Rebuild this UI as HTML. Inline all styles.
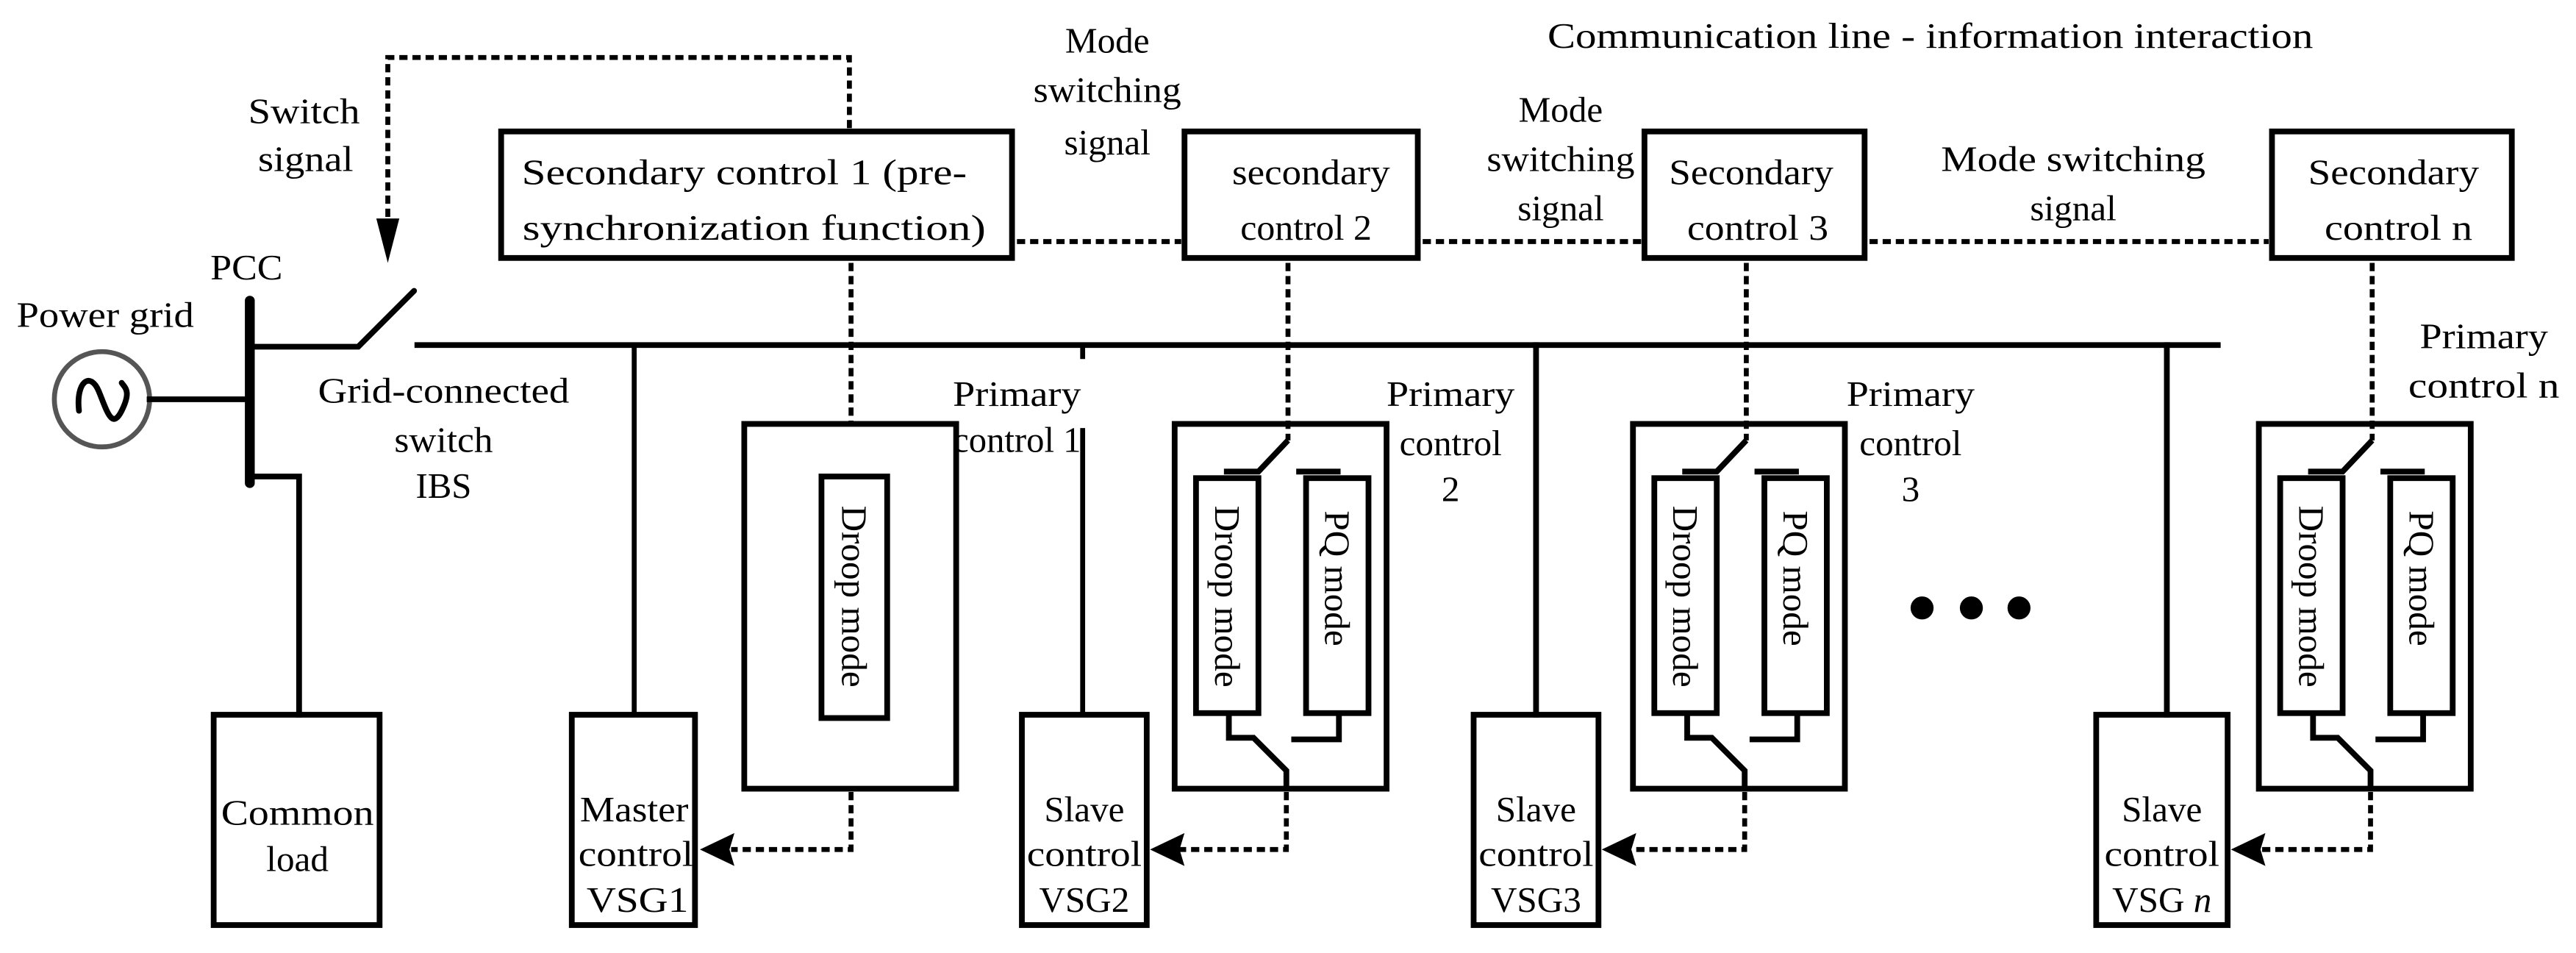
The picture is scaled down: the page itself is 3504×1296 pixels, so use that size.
<!DOCTYPE html>
<html><head><meta charset="utf-8"><style>
html,body{margin:0;padding:0;background:#fff;}
svg{display:block;}
text{font-family:"Liberation Serif","Times New Roman",serif;font-size:22px;fill:#000;}
</style></head><body>
<svg width="3504" height="1296" viewBox="0 0 1568 580" xmlns="http://www.w3.org/2000/svg">
<rect width="1568" height="580" fill="#fff"/>
<g text-anchor="middle">
<text x="185" y="75" textLength="68" lengthAdjust="spacingAndGlyphs">Switch</text>
<text x="186" y="104" textLength="58" lengthAdjust="spacingAndGlyphs">signal</text>
<text x="150" y="170" textLength="44" lengthAdjust="spacingAndGlyphs">PCC</text>
<text x="64" y="199" textLength="108" lengthAdjust="spacingAndGlyphs">Power grid</text>
<text x="270" y="245" textLength="153" lengthAdjust="spacingAndGlyphs">Grid-connected</text>
<text x="270" y="275" textLength="60" lengthAdjust="spacingAndGlyphs">switch</text>
<text x="270" y="303" textLength="34" lengthAdjust="spacingAndGlyphs">IBS</text>
<text x="674" y="32">Mode</text>
<text x="674" y="62" textLength="90" lengthAdjust="spacingAndGlyphs">switching</text>
<text x="674" y="94">signal</text>
<text x="950" y="74">Mode</text>
<text x="950" y="104" textLength="90" lengthAdjust="spacingAndGlyphs">switching</text>
<text x="950" y="134">signal</text>
<text x="1262" y="104" textLength="161" lengthAdjust="spacingAndGlyphs">Mode switching</text>
<text x="1262" y="134">signal</text>
<text x="1175" y="29" textLength="466" lengthAdjust="spacingAndGlyphs">Communication line - information interaction</text>
<text x="453" y="112" textLength="271" lengthAdjust="spacingAndGlyphs">Secondary control 1 (pre-</text>
<text x="459" y="146" textLength="282" lengthAdjust="spacingAndGlyphs">synchronization function)</text>
<text x="798" y="112" textLength="96" lengthAdjust="spacingAndGlyphs">secondary</text>
<text x="795" y="146" textLength="80" lengthAdjust="spacingAndGlyphs">control 2</text>
<text x="1066" y="112" textLength="100" lengthAdjust="spacingAndGlyphs">Secondary</text>
<text x="1070" y="146" textLength="86" lengthAdjust="spacingAndGlyphs">control 3</text>
<text x="1457" y="112" textLength="104" lengthAdjust="spacingAndGlyphs">Secondary</text>
<text x="1460" y="146" textLength="90" lengthAdjust="spacingAndGlyphs">control n</text>
<text x="619" y="247" textLength="78" lengthAdjust="spacingAndGlyphs">Primary</text>
<text x="619" y="275" textLength="78" lengthAdjust="spacingAndGlyphs">control 1</text>
<text x="883" y="247" textLength="78" lengthAdjust="spacingAndGlyphs">Primary</text>
<text x="883" y="277">control</text>
<text x="883" y="305">2</text>
<text x="1163" y="247" textLength="78" lengthAdjust="spacingAndGlyphs">Primary</text>
<text x="1163" y="277">control</text>
<text x="1163" y="305">3</text>
<text x="1512" y="212" textLength="78" lengthAdjust="spacingAndGlyphs">Primary</text>
<text x="1512" y="242" textLength="92" lengthAdjust="spacingAndGlyphs">control n</text>
<text x="181" y="502" textLength="93" lengthAdjust="spacingAndGlyphs">Common</text>
<text x="181" y="530">load</text>
<text x="386" y="500" textLength="66" lengthAdjust="spacingAndGlyphs">Master</text>
<text x="387" y="527" textLength="70" lengthAdjust="spacingAndGlyphs">control</text>
<text x="388" y="555" textLength="62" lengthAdjust="spacingAndGlyphs">VSG1</text>
<text x="660" y="500">Slave</text>
<text x="660" y="527" textLength="70" lengthAdjust="spacingAndGlyphs">control</text>
<text x="660" y="555">VSG2</text>
<text x="935" y="500">Slave</text>
<text x="935" y="527" textLength="70" lengthAdjust="spacingAndGlyphs">control</text>
<text x="935" y="555">VSG3</text>
<text x="1316" y="500">Slave</text>
<text x="1316" y="527" textLength="70" lengthAdjust="spacingAndGlyphs">control</text>
<text x="1316" y="555">VSG <tspan font-style="italic">n</tspan></text>
<text transform="translate(520,363) rotate(90)" dominant-baseline="central">Droop mode</text>
<text transform="translate(747,363) rotate(90)" dominant-baseline="central">Droop mode</text>
<text transform="translate(814,352) rotate(90)" dominant-baseline="central">PQ mode</text>
<text transform="translate(1026,363) rotate(90)" dominant-baseline="central">Droop mode</text>
<text transform="translate(1093,352) rotate(90)" dominant-baseline="central">PQ mode</text>
<text transform="translate(1407,363) rotate(90)" dominant-baseline="central">Droop mode</text>
<text transform="translate(1474,352) rotate(90)" dominant-baseline="central">PQ mode</text>
</g>

<g fill="none" stroke="#000" stroke-width="3.5" stroke-linecap="square">
<circle cx="62" cy="243" r="29" stroke="#555" stroke-width="3"/>
<path d="M48 250 C46 232, 55 226, 60 238 S 68 262, 74 250 S 76 236, 74 233" stroke-width="3.5" stroke-linecap="round"/>
<line x1="91" y1="243" x2="152" y2="243"/>
<line x1="152" y1="183" x2="152" y2="294" stroke-width="6" stroke-linecap="round"/>
<polyline points="152,211 218,211 252,177" stroke-linecap="round"/>
<line x1="254" y1="210" x2="1350" y2="210"/>
<polyline points="152,290 182,290 182,435"/>
<rect x="130" y="435" width="101" height="128"/>
<line x1="386" y1="210" x2="386" y2="435" stroke-width="3"/>
<rect x="348" y="435" width="75" height="128"/>
<rect x="305" y="80" width="311" height="77"/>
<rect x="721" y="80" width="142" height="77"/>
<rect x="1001" y="80" width="134" height="77"/>
<rect x="1383" y="80" width="146" height="77"/>
<rect x="453" y="258" width="129" height="222"/>
<rect x="500" y="290" width="40" height="147"/>
<line x1="659" y1="210" x2="659" y2="217" stroke-width="3"/>
<line x1="659" y1="262" x2="659" y2="435" stroke-width="3"/>
<rect x="622" y="435" width="76" height="128"/>
<line x1="935" y1="210" x2="935" y2="435"/>
<rect x="897" y="435" width="76" height="128"/>
<line x1="1319" y1="210" x2="1319" y2="435"/>
<rect x="1276" y="435" width="80" height="128"/>
</g>

<g id="m" fill="none" stroke="#000" stroke-width="3.5">
<rect x="715" y="258" width="129" height="222"/>
<rect x="728" y="291" width="38" height="143"/>
<rect x="795" y="291" width="38" height="143"/>
<polyline points="784,268 766,287 745,287"/>
<line x1="789" y1="287" x2="816" y2="287"/>
<polyline points="748,434 748,449 763,449 783,469 783,480"/>
<polyline points="815,434 815,450 786,450"/>
<g stroke-dasharray="5 3" stroke-width="3">
<line x1="784" y1="160" x2="784" y2="268"/>
<polyline points="783,482 783,517 716,517"/>
</g>
</g>
<use href="#m" transform="translate(279,0)"/>
<use href="#m" transform="translate(660,0)"/>

<g fill="none" stroke="#000" stroke-width="3" stroke-dasharray="5 3">
<polyline points="517,78 517,35 236,35 236,138"/>
<line x1="518" y1="160" x2="518" y2="258"/>
<polyline points="518,482 518,517 445,517"/>
<line x1="619" y1="147" x2="719" y2="147"/>
<line x1="866" y1="147" x2="999" y2="147"/>
<line x1="1138" y1="147" x2="1381" y2="147"/>
</g>
<g fill="#000">
<polygon points="229,133 243,133 236,160"/>
<polygon points="426,517 447,507 444,517 447,527"/>
<polygon points="700,517 721,507 718,517 721,527"/>
<polygon points="975,517 996,507 993,517 996,527"/>
<polygon points="1358,517 1379,507 1376,517 1379,527"/>
<circle cx="1170" cy="370" r="7"/>
<circle cx="1200" cy="370" r="7"/>
<circle cx="1229" cy="370" r="7"/>
</g>
</svg>
</body></html>
